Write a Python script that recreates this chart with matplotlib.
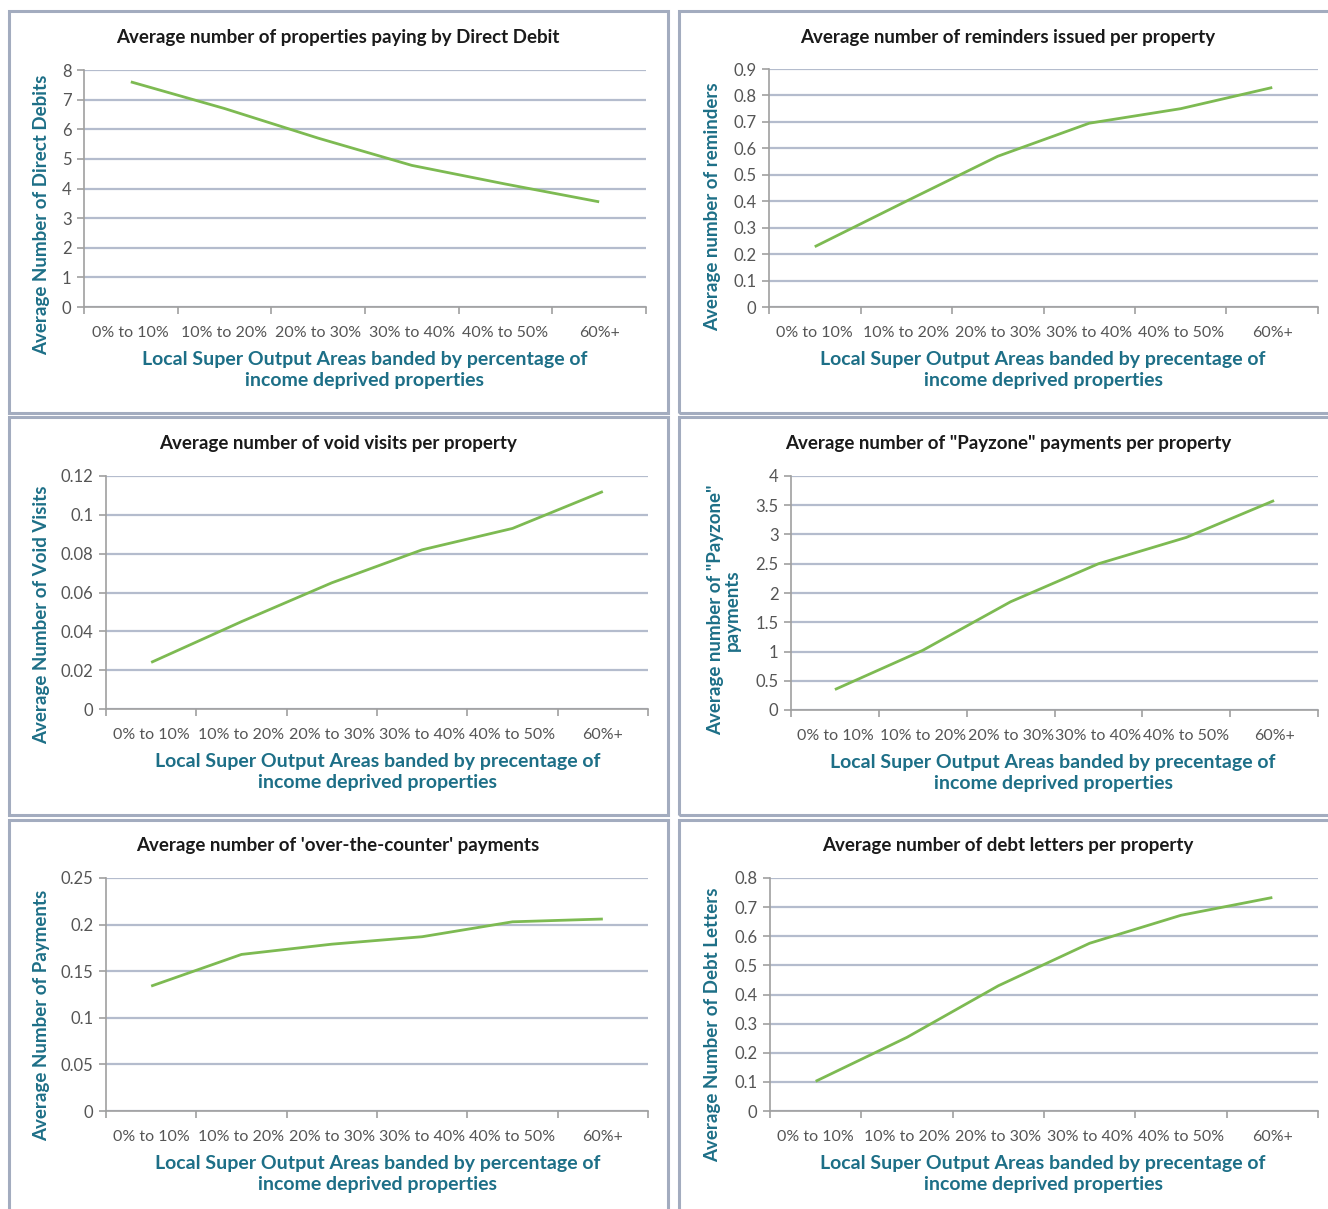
import matplotlib.pyplot as plt
from matplotlib.patches import Rectangle
from matplotlib.ticker import FuncFormatter

plt.rcParams['font.family'] = ['Lato', 'DejaVu Sans']

W, H = 1328, 1209

bands = ["0% to 10%", "10% to 20%", "20% to 30%", "30% to 40%", "40% to 50%", "60%+"]

direct_debits = [7.6, 6.7, 5.7, 4.78, 4.15, 3.55]
reminders = [0.228, 0.40, 0.57, 0.695, 0.75, 0.83]
void_visits = [0.024, 0.045, 0.065, 0.082, 0.093, 0.112]
payzone = [0.35, 1.02, 1.85, 2.5, 2.95, 3.58]
otc_payments = [0.134, 0.168, 0.179, 0.187, 0.203, 0.206]
debt_letters = [0.102, 0.253, 0.43, 0.576, 0.672, 0.733]

titles = [
    "Average number of properties paying by Direct Debit",
    "Average number of reminders issued per property",
    "Average number of void visits per property",
    'Average number of "Payzone" payments per property',
    "Average number of 'over-the-counter' payments",
    "Average number of debt letters per property",
]
ylabels = [
    "Average Number of Direct Debits",
    "Average number of reminders",
    "Average Number of Void Visits",
    'Average number of "Payzone"\npayments',
    "Average Number of Payments",
    "Average Number of Debt Letters",
]
xlabels = [
    "Local Super Output Areas banded by percentage of\nincome deprived properties",
    "Local Super Output Areas banded by precentage of\nincome deprived properties",
    "Local Super Output Areas banded by precentage of\nincome deprived properties",
    "Local Super Output Areas banded by precentage of\nincome deprived properties",
    "Local Super Output Areas banded by percentage of\nincome deprived properties",
    "Local Super Output Areas banded by precentage of\nincome deprived properties",
]
series = [direct_debits, reminders, void_visits, payzone, otc_payments, debt_letters]
ymax = [8, 0.9, 0.12, 4, 0.25, 0.8]
ystep = [1, 0.1, 0.02, 0.5, 0.05, 0.1]

# panel frame (x0, y0, x1, y1), plot area, title centre x, ylabel x, xlabel centre x (pixels)
frames = [(9, 11, 668, 413), (679, 11, 1340, 413),
          (9, 417, 668, 815), (679, 417, 1340, 815),
          (9, 820, 668, 1230), (679, 820, 1340, 1230)]
plots = [(84, 70, 646, 307), (769, 69, 1318, 307),
         (106, 476, 648, 709), (791, 476, 1318, 710),
         (106, 878, 648, 1111), (770, 878, 1318, 1111)]
title_x = [338, 1008, 338, 1008, 338, 1008]
ylab_x = [42, 713, 42, 724, 42, 713]
ylab_y = [215, 207, 615, 610, 1015, 1025]
xlab_x = [365, 1043, 378, 1053, 378, 1043]

teal = '#1d6f87'
green = '#7dba52'
grid = '#b4bccd'

fig = plt.figure(figsize=(W / 100, H / 100), dpi=100)
fig.patch.set_facecolor('white')

for i in range(6):
    x0, y0, x1, y1 = frames[i]
    fig.patches.append(Rectangle((x0 / W, 1 - y1 / H), (x1 - x0) / W, (y1 - y0) / H,
                                 transform=fig.transFigure, fill=False,
                                 edgecolor='#a3acbf', linewidth=2.2))

    px0, py0, px1, py1 = plots[i]
    ax = fig.add_axes([px0 / W, 1 - py1 / H, (px1 - px0) / W, (py1 - py0) / H])
    xs = [k + 0.5 for k in range(len(bands))]
    ax.plot(xs, series[i], color=green, linewidth=2.0, solid_capstyle='butt')

    ax.set_xlim(0, len(bands))
    ax.set_ylim(0, ymax[i])
    n = int(round(ymax[i] / ystep[i]))
    ax.set_yticks([round(k * ystep[i], 4) for k in range(n + 1)])
    ax.yaxis.set_major_formatter(FuncFormatter(lambda v, p: f"{v:g}"))
    ax.set_xticks(range(len(bands) + 1))
    ax.set_xticklabels([])
    ax.set_xticks(xs, minor=True)
    ax.set_xticklabels(bands, minor=True)
    ax.tick_params(axis='x', which='minor', length=0, pad=14, labelsize=11.5, labelcolor='#555555')
    ax.tick_params(axis='x', which='major', length=5, color='#a0a0a0', width=1.2)
    ax.tick_params(axis='y', length=5, color='#a0a0a0', width=1.2, labelsize=12,
                   labelcolor='#555555', pad=4)
    ax.grid(axis='y', color=grid, linewidth=1.6)
    ax.set_axisbelow(True)
    for s in ['top', 'right']:
        ax.spines[s].set_visible(False)
    for s in ['left', 'bottom']:
        ax.spines[s].set_color('#a0a0a0')
        ax.spines[s].set_linewidth(1.2)

    fig.text(title_x[i] / W, 1 - (y0 + 26) / H, titles[i], ha='center', va='center',
             fontsize=13.5, fontweight='bold', color='#1a1a1a')
    fig.text(ylab_x[i] / W, 1 - ylab_y[i] / H, ylabels[i], rotation=90,
             ha='center', va='center', fontsize=13.5, fontweight='bold', color=teal,
             linespacing=1.0)
    fig.text(xlab_x[i] / W, 1 - (py1 + 63) / H, xlabels[i], ha='center', va='center',
             fontsize=14, fontweight='bold', color=teal, linespacing=1.3)

fig.savefig('out.png', dpi=100)
